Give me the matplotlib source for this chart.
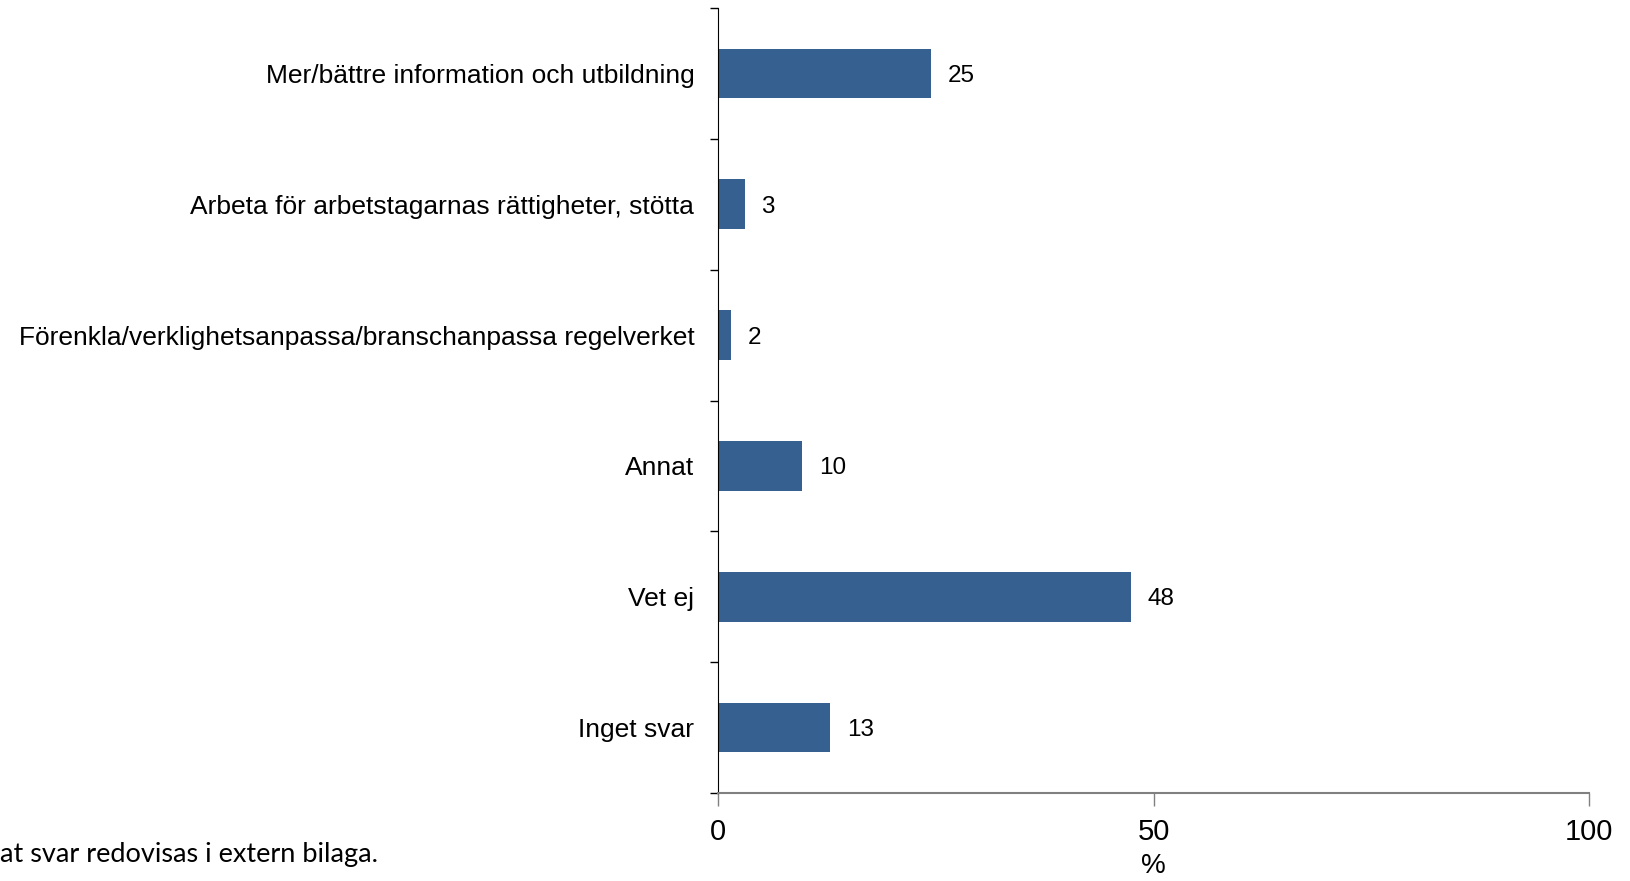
import matplotlib.pyplot as plt
import numpy as np
from matplotlib.ticker import FixedLocator

# -----------------------------
# Data
# -----------------------------
categories = [
    "Mer/bättre information och utbildning",
    "Arbeta för arbetstagarnas rättigheter, stötta",
    "Förenkla/verklighetsanpassa/branschanpassa regelverket",
    "Annat",
    "Vet ej",
    "Inget svar",
]
values = [24.5, 3.1, 1.5, 9.7, 47.4, 12.9]   # bar lengths
labels = [25, 3, 2, 10, 48, 13]              # printed (rounded) values
x_ticks = [0, 50, 100]
footnote = "at svar redovisas i extern bilaga."

plt.rcParams['font.family'] = ['Liberation Sans', 'DejaVu Sans']

# -----------------------------
# Figure
# -----------------------------
fig = plt.figure(figsize=(16.31, 8.81), dpi=100)
ax = fig.add_axes([0.4402, 0.0999, 0.5341, 0.891])

pos = np.arange(len(categories))
ax.barh(pos, values, height=0.38, color='#36608f', edgecolor='none')

for y, v, lab in zip(pos, values, labels):
    ax.text(v + 1.9, y, str(lab), va='center_baseline', ha='left', fontsize=17.5)

ax.set_ylim(len(categories) - 0.5, -0.5)
ax.set_xlim(0, 100)

ax.set_yticks(pos)
ax.set_yticklabels(categories, fontsize=19)
ax.tick_params(axis='y', which='major', length=0, pad=17)
ax.yaxis.set_minor_locator(FixedLocator(np.arange(-0.5, len(categories), 1.0)))
ax.tick_params(axis='y', which='minor', length=6, width=1, color='black', direction='out')

ax.set_xticks(x_ticks)
ax.set_xticklabels([str(t) for t in x_ticks], fontsize=21)
ax.tick_params(axis='x', length=9, width=1, color='#808080', direction='out', pad=9)
ax.set_xlabel('%', fontsize=20, labelpad=5)

ax.spines['top'].set_visible(False)
ax.spines['right'].set_visible(False)
ax.spines['left'].set_color('black')
ax.spines['bottom'].set_color('#808080')
ax.spines['bottom'].set_linewidth(1.5)

fig.text(0.0, 0.022, footnote, fontsize=19.5, family=['Lato', 'DejaVu Sans'],
         ha='left', va='baseline')

fig.savefig("out.png", dpi=100)
